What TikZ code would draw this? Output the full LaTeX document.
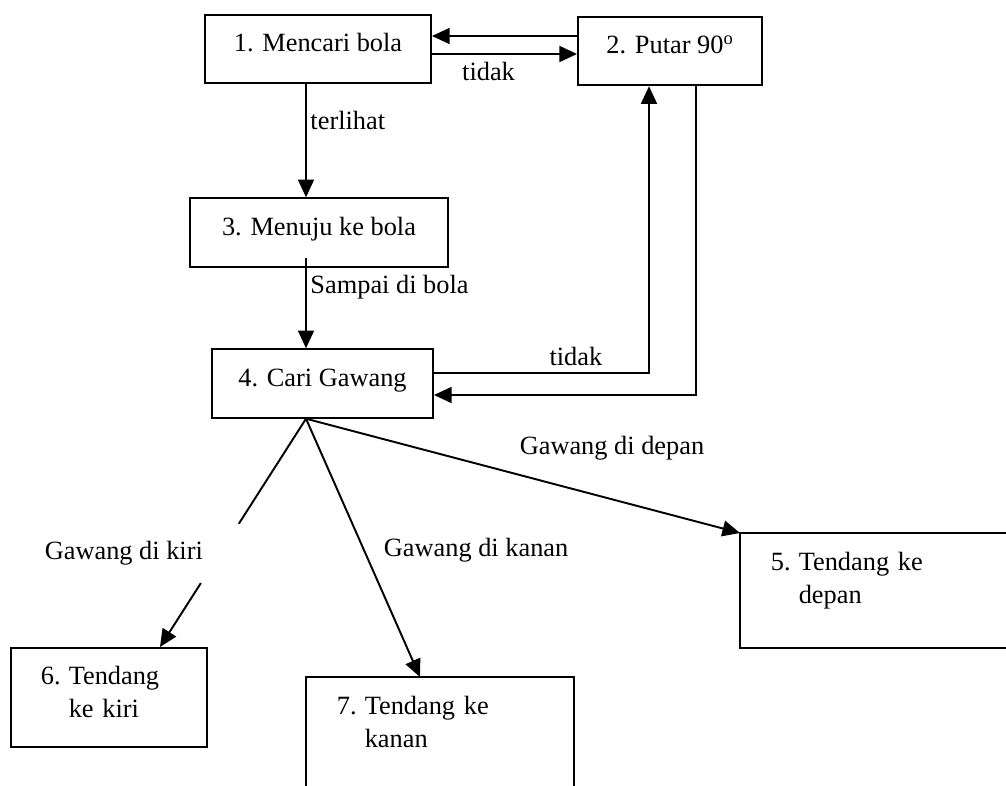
\documentclass[tikz,border=0pt]{standalone}
\usepackage{fontspec}
\setmainfont{Liberation Serif}
\usepackage{tikz}
\usetikzlibrary{positioning, arrows.meta, calc}
\newcommand{\butir}[3]{\noindent\begin{tabular}[t]{@{}p{15.9pt}@{}l@{}}#1 & #2\\ & #3\end{tabular}}

\begin{document}
\begin{tikzpicture}[
    x=0.02cm, y=-0.02cm,
    font=\fontsize{15}{18.5}\selectfont,
    kotak/.style={draw, line width=1.1pt, minimum height=1.37cm, text height=11pt, text depth=7.8pt, inner sep=0pt},
    kotakbutir/.style={draw, line width=1.1pt, anchor=north west, align=left, inner xsep=17pt, inner ysep=0pt, text height=21pt},
    panah/.style={-{Triangle[length=10pt, width=9pt]}, line width=1.1pt},
    garis/.style={line width=1.1pt}
]
    \useasboundingbox (0,0) rectangle (1006,786);
    \node[kotak, minimum width=4.52cm] (cari) at (318,49) {1. Mencari bola};
    \node[kotak, minimum width=3.68cm] (putar) at (670,51) {2. Putar 90\textsuperscript{o}};
    \node[kotak, minimum width=5.16cm] (menuju) at (319,232.5) {3. Menuju ke bola};
    \node[kotak, minimum width=4.42cm] (gawang) at (322.5,383.5) {4. Cari Gawang};
    % kotak 5 dan 7 terpotong di tepi gambar
    \node[kotakbutir, draw=none, text width=120pt, text depth=43.6pt] (depan) at (740,533) {\butir{5.}{Tendang ke}{depan}};
    \draw[garis] ([xshift=0.6cm]depan.north east) -- (depan.north west) -- (depan.south west) -- ([xshift=0.6cm]depan.south east);
    \node[kotakbutir, text width=77.7pt, text depth=35.1pt] (kiri) at (10,647) {\butir{6.}{Tendang}{ke kiri}};
    \node[kotakbutir, draw=none, text width=117.4pt, text depth=45pt] (kanan) at (306,677) {\butir{7.}{Tendang ke}{kanan}};
    \draw[garis] ([yshift=-0.4cm]kanan.south west) -- (kanan.north west) -- (kanan.north east) -- ([yshift=-0.4cm]kanan.south east);
    \draw[panah] ([yshift=0.3cm]putar.west) -- ([yshift=0.3cm]putar.west -| cari.east);
    \draw[panah] ([yshift=-0.1cm]cari.east) -- ([yshift=-0.1cm]cari.east -| putar.west) node[pos=0.39, below=1pt] {tidak};
    \draw[panah] ([xshift=-0.24cm]cari.south) -- ([xshift=-0.24cm]cari.south |- menuju.north) node[pos=0.32, right, inner xsep=2pt] {terlihat};
    \draw[panah] ([xshift=-0.26cm, yshift=0.2cm]menuju.south) -- ([xshift=-0.26cm]menuju.south |- gawang.north) node[pos=0.33, right, inner xsep=2pt] {Sampai di bola};
    \draw[panah] ([yshift=0.21cm]gawang.east) -| ([xshift=-0.42cm]putar.south) node[pos=0.33, above] {tidak};
    \draw[panah] ([xshift=0.52cm]putar.south) |- ([yshift=-0.23cm]gawang.east);
    \coordinate (pangkal) at ([xshift=-0.33cm]gawang.south);
    \coordinate (ujungkiri) at ([xshift=3cm]kiri.north west);
    \draw[panah] (pangkal) -- (depan.north west) node[pos=0.705, yshift=1.02cm] {Gawang di depan};
    \draw[panah] (pangkal) -- ([xshift=2.28cm]kanan.north west) node[pos=0.51, xshift=2.24cm] {Gawang di kanan};
    \draw[garis] (pangkal) -- ($(pangkal)!0.46!(ujungkiri)$);
    \draw[panah] ($(pangkal)!0.72!(ujungkiri)$) -- (ujungkiri);
    \path (pangkal) -- (ujungkiri) node[pos=0.59, xshift=-1.92cm] {Gawang di kiri};
\end{tikzpicture}
\end{document}
